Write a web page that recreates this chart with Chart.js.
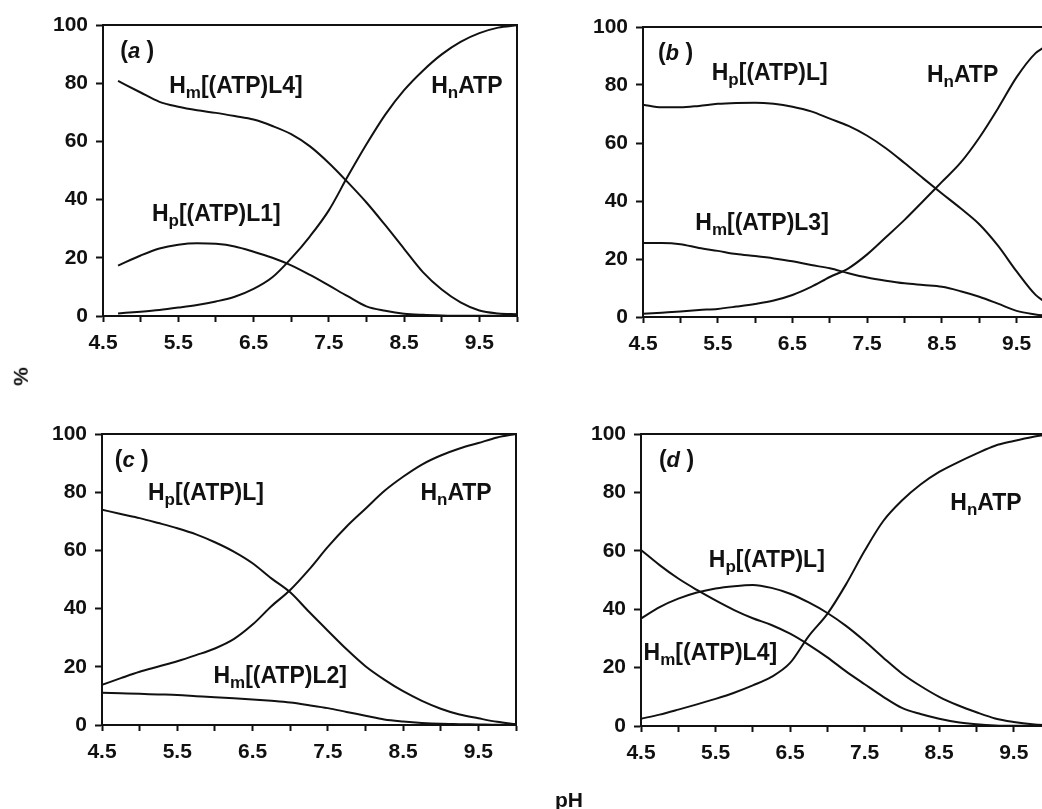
<!DOCTYPE html>
<html lang="en">
<head>
  <meta charset="UTF-8">
  <title>ATP species distribution vs pH</title>
  <script src="https://cdn.jsdelivr.net/npm/chart.js"></script>
  <style>
    html, body {
      margin: 0;
      padding: 0;
      background: #fff;
      width: 1042px;
      height: 809px;
      overflow: hidden;
      position: relative;
    }
    canvas { position: absolute; }
    .ttl {
      position: absolute;
      font: bold 21px "Liberation Sans", Arial, sans-serif;
      color: #111;
      line-height: 1;
    }
  </style>
</head>
<body>
  <canvas id="chartA" width="520" height="400" style="left:0;top:0"></canvas>
  <canvas id="chartB" width="540" height="400" style="left:520px;top:0"></canvas>
  <canvas id="chartC" width="520" height="409" style="left:0;top:400px"></canvas>
  <canvas id="chartD" width="540" height="409" style="left:520px;top:400px"></canvas>
  <div class="ttl" style="left:11px;top:366px;transform:rotate(-90deg)">%</div>
  <div class="ttl" style="left:555px;top:789px">pH</div>

  <script>
    // pH values and % of each species
    const phA = [4.7, 5.0, 5.25, 5.5, 5.75, 6.0, 6.25, 6.5, 6.75, 7.0, 7.25, 7.5, 7.75, 8.0, 8.25, 8.5, 8.75, 9.0, 9.25, 9.5, 9.75, 10.0];
    const aHmL4 = [80.8, 76.8, 73.6, 71.9, 70.7, 69.8, 68.7, 67.5, 65.3, 62.5, 58.3, 52.6, 46, 39, 31.2, 23.1, 15.1, 9.1, 4.7, 1.9, 0.9, 0.6];
    const aHpL1 = [17.3, 20.8, 23.2, 24.5, 25, 24.8, 23.9, 22.1, 20, 17.4, 14.1, 10.5, 6.8, 3.3, 1.8, 0.8, 0.4, 0.2, 0.1, 0.1, 0.1, 0.1];
    const aHnATP = [0.9, 1.5, 2.1, 2.9, 3.8, 5, 6.6, 9.3, 13.3, 19.8, 27.4, 36.3, 47.9, 59, 69.2, 77.6, 84.3, 89.9, 94.2, 97.2, 99.1, 99.9];

    const phB = [4.5, 4.75, 5.0, 5.25, 5.5, 5.75, 6.0, 6.25, 6.5, 6.75, 7.0, 7.25, 7.5, 7.75, 8.0, 8.25, 8.5, 8.75, 9.0, 9.25, 9.5, 9.75, 9.85, 10.0];
    const bHpL = [73.2, 72.3, 72.3, 72.8, 73.5, 73.8, 73.9, 73.5, 72.5, 70.9, 68.4, 65.9, 62.5, 58.2, 53.1, 47.8, 42.6, 37.5, 32, 24.6, 15.7, 7.7, 5.7, 3.5];
    const bHmL3 = [25.5, 25.5, 25.1, 23.8, 22.8, 21.7, 21, 20.2, 19.2, 17.9, 16.8, 15.1, 13.6, 12.5, 11.6, 11.0, 10.4, 8.9, 7.0, 4.6, 2.1, 0.9, 0.6, 0.3];
    const bHnATP = [1.1, 1.5, 1.9, 2.4, 2.8, 3.6, 4.5, 5.7, 7.6, 10.4, 13.8, 16.8, 21.6, 27.5, 33.5, 40, 46.6, 53.2, 61.8, 71.9, 82.7, 90.9, 92.7, 95];

    const phC = [4.5, 4.75, 5.0, 5.25, 5.5, 5.75, 6.0, 6.25, 6.5, 6.75, 7.0, 7.25, 7.5, 7.75, 8.0, 8.25, 8.5, 8.75, 9.0, 9.25, 9.5, 9.75, 10.0];
    const cHpL = [74, 72.5, 71.1, 69.4, 67.6, 65.5, 62.8, 59.6, 55.6, 50.4, 45.6, 38.9, 32.4, 26, 20.2, 15.6, 11.6, 8.3, 5.6, 3.6, 2.3, 1.1, 0.3];
    const cHnATP = [13.8, 16.1, 18.3, 20.1, 21.9, 24, 26.3, 29.5, 34.5, 40.8, 46.4, 53.4, 61.2, 68.2, 74.3, 80.4, 85.3, 89.5, 92.6, 95, 96.9, 98.8, 100];
    const cHmL2 = [11.1, 10.9, 10.7, 10.5, 10.3, 9.9, 9.5, 9.2, 8.8, 8.3, 7.7, 6.8, 5.8, 4.5, 3.2, 1.9, 1.2, 0.7, 0.4, 0.3, 0.2, 0.1, 0.1];

    const phD = [4.5, 4.75, 5.0, 5.25, 5.5, 5.75, 6.0, 6.25, 6.5, 6.75, 7.0, 7.25, 7.5, 7.75, 8.0, 8.25, 8.5, 8.75, 9.0, 9.25, 9.5, 9.75, 10.0];
    const dHmL4 = [60.3, 55.1, 50.5, 46.6, 43, 39.7, 36.9, 34.6, 31.6, 27.8, 23.5, 18.7, 14.3, 10, 6.2, 4.1, 2.5, 1.3, 0.6, 0.2, 0.1, 0.1, 0];
    const dHpL = [36.8, 40.7, 43.6, 45.7, 47.1, 47.9, 48.3, 47.3, 45.3, 42.3, 38.7, 34.3, 29.1, 23.4, 18, 13.7, 10, 7.1, 4.7, 2.6, 1.4, 0.6, 0.2];
    const dHnATP = [2.5, 3.9, 5.6, 7.4, 9.3, 11.4, 13.9, 16.8, 21.6, 30.8, 38.4, 48.5, 60, 70.2, 77.2, 82.7, 87, 90.3, 93.3, 96, 97.6, 99, 100];

    const xLabels = ['4.5', '5.5', '6.5', '7.5', '8.5', '9.5'];
    const yTicks = [0, 20, 40, 60, 80, 100];

    const FONT = '"Liberation Sans", Arial, Helvetica, sans-serif';
    const INK = '#111';

    function pts(xs, ys) {
      return xs.map((x, i) => ({ x: x, y: ys[i] }));
    }

    function species(sub, rest) {
      return [['H', 'n'], [sub, 'sub'], [rest, 'n']];
    }

    function tag(letter) {
      return [['(', 'n'], [letter, 'it'], [' )', 'n']];
    }

    // frame around the plot + the in-plot text labels
    const annotPlugin = {
      id: 'annot',
      afterDatasetsDraw(chart, args, opts) {
        const ctx = chart.ctx;
        const ca = chart.chartArea;
        const xs = chart.scales.x, ys = chart.scales.y;
        ctx.save();
        ctx.strokeStyle = INK;
        ctx.lineWidth = 2;
        ctx.strokeRect(ca.left, ca.top, ca.right - ca.left, ca.bottom - ca.top);
        ctx.fillStyle = INK;
        ctx.textAlign = 'left';
        ctx.textBaseline = 'alphabetic';
        (opts.items || []).forEach(item => {
          let px = xs.getPixelForValue(item.x);
          const py = ys.getPixelForValue(item.y);
          item.parts.forEach(([txt, kind]) => {
            if (kind === 'sub') ctx.font = 'bold 17px ' + FONT;
            else if (kind === 'it') ctx.font = 'italic bold 22px ' + FONT;
            else ctx.font = 'bold 23px ' + FONT;
            ctx.fillText(txt, px, py + (kind === 'sub' ? 5 : 0));
            px += ctx.measureText(txt).width;
          });
        });
        ctx.restore();
      }
    };

    function makePanel(id, area, series, items) {
      const cv = document.getElementById(id);
      const W = cv.width, H = cv.height;
      const XH = 45;
      return new Chart(cv, {
        type: 'line',
        data: {
          datasets: series.map(s => ({
            data: pts(s[0], s[1]),
            borderColor: INK,
            borderWidth: 2,
            pointRadius: 0,
            fill: false,
            cubicInterpolationMode: 'monotone'
          }))
        },
        options: {
          responsive: false,
          animation: false,
          events: [],
          layout: {
            padding: { left: 0, top: area.top, right: W - area.right, bottom: H - area.bottom - XH }
          },
          plugins: {
            legend: { display: false },
            tooltip: { enabled: false },
            annot: { items: items }
          },
          scales: {
            x: {
              type: 'linear',
              min: 4.5,
              max: 10,
              afterFit: s => { s.height = XH; s.paddingLeft = 0; s.paddingRight = 0; },
              ticks: {
                stepSize: 0.5,
                autoSkip: false,
                maxRotation: 0,
                padding: 9,
                color: INK,
                font: { family: FONT, size: 21, weight: 'bold' },
                callback: v => {
                  const t = Number(v).toFixed(1);
                  return xLabels.includes(t) ? t : '';
                }
              },
              grid: { drawOnChartArea: false, tickLength: 6, tickColor: INK, tickWidth: 2 },
              border: { display: true, color: INK, width: 2 }
            },
            y: {
              min: 0,
              max: 100,
              afterFit: s => { s.width = area.left; s.paddingTop = 0; s.paddingBottom = 0; },
              afterBuildTicks: s => { s.ticks = yTicks.map(v => ({ value: v })); },
              ticks: {
                padding: 8,
                color: INK,
                font: { family: FONT, size: 21, weight: 'bold' }
              },
              grid: { drawOnChartArea: false, tickLength: 7, tickColor: INK, tickWidth: 2 },
              border: { display: true, color: INK, width: 2 }
            }
          }
        },
        plugins: [annotPlugin]
      });
    }

    makePanel('chartA', { left: 103, top: 25, right: 517, bottom: 316 },
      [[phA, aHmL4], [phA, aHpL1], [phA, aHnATP]],
      [
        { x: 4.73, y: 88.7, parts: tag('a') },
        { x: 5.38, y: 76.6, parts: species('m', '[(ATP)L4]') },
        { x: 8.86, y: 76.6, parts: species('n', 'ATP') },
        { x: 5.15, y: 32.6, parts: species('p', '[(ATP)L1]') }
      ]);

    makePanel('chartB', { left: 123, top: 27, right: 534, bottom: 317 },
      [[phB, bHpL], [phB, bHmL3], [phB, bHnATP]],
      [
        { x: 4.70, y: 88.6, parts: tag('b') },
        { x: 5.42, y: 81.7, parts: species('p', '[(ATP)L]') },
        { x: 8.30, y: 81.1, parts: species('n', 'ATP') },
        { x: 5.20, y: 30, parts: species('m', '[(ATP)L3]') }
      ]);

    makePanel('chartC', { left: 102, top: 34, right: 516, bottom: 325 },
      [[phC, cHpL], [phC, cHnATP], [phC, cHmL2]],
      [
        { x: 4.67, y: 88.6, parts: tag('c') },
        { x: 5.11, y: 77.4, parts: species('p', '[(ATP)L]') },
        { x: 8.73, y: 77.4, parts: species('n', 'ATP') },
        { x: 5.98, y: 14.3, parts: species('m', '[(ATP)L2]') }
      ]);

    makePanel('chartD', { left: 121, top: 34, right: 531, bottom: 326 },
      [[phD, dHmL4], [phD, dHpL], [phD, dHnATP]],
      [
        { x: 4.74, y: 88.7, parts: tag('d') },
        { x: 8.65, y: 74, parts: species('n', 'ATP') },
        { x: 5.41, y: 54.6, parts: species('p', '[(ATP)L]') },
        { x: 4.535, y: 22.5, parts: species('m', '[(ATP)L4]') }
      ]);
  </script>
</body>
</html>
